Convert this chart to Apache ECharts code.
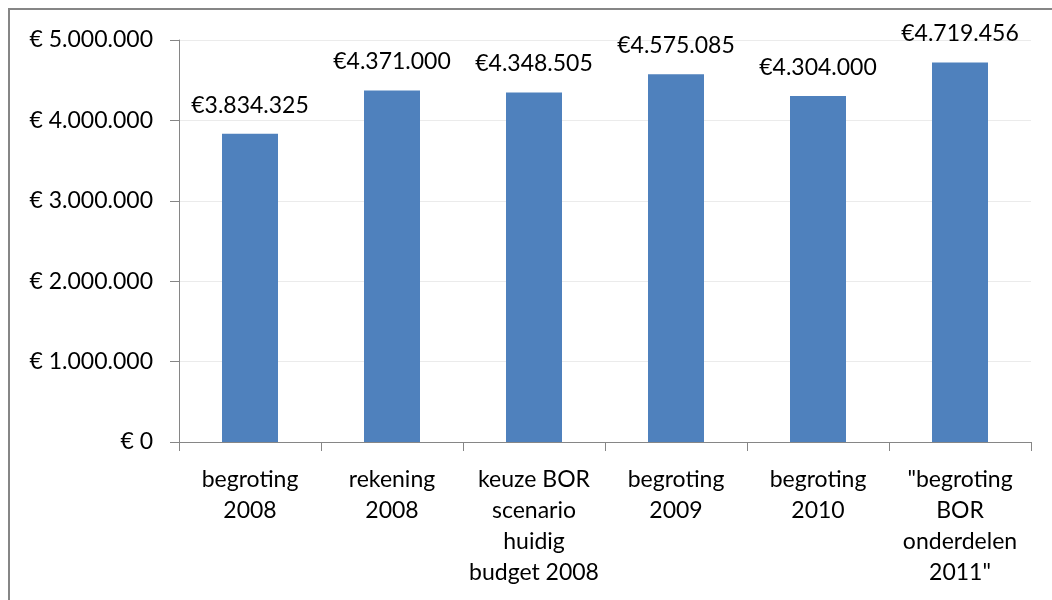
<!DOCTYPE html>
<html>
<head>
<meta charset="utf-8">
<script src="https://cdn.jsdelivr.net/npm/echarts@6/dist/echarts.min.js"></script>
<style>
  html, body { margin: 0; padding: 0; background: #fff; }
  #chart { width: 1052px; height: 600px; }
</style>
</head>
<body>
<div id="chart"></div>
<script>
// categorieën en bedragen
const categories = [
    "begroting\n2008",
    "rekening\n2008",
    "keuze BOR\nscenario\nhuidig\nbudget 2008",
    "begroting\n2009",
    "begroting\n2010",
    "\"begroting\nBOR\nonderdelen\n2011\""
]
const amounts = [3834325, 4371000, 4348505, 4575085, 4304000, 4719456]
const yTicks = [0, 1000000, 2000000, 3000000, 4000000, 5000000]

// getal met punten als duizendtal scheiding
function euro(v) {
    return String(v).replace(/\B(?=(\d{3})+(?!\d))/g, ".")
}

const font = "Lato, 'Open Sans', sans-serif"
const chart = echarts.init(document.getElementById("chart"))
chart.setOption({
    animation: false,
    backgroundColor: "#fff",
    graphic: [{
        type: "rect",
        shape: { x: 9, y: 9, width: 1200, height: 800 },
        style: { fill: "none", stroke: "#868686", lineWidth: 2 },
        silent: true
    }],
    grid: { left: 179, right: 21, top: 40, bottom: 158 },
    xAxis: {
        type: "category",
        data: categories,
        axisLine: { lineStyle: { color: "#868686", width: 1 } },
        axisTick: { show: true, length: 9, alignWithLabel: false, lineStyle: { color: "#868686" } },
        axisLabel: {
            interval: 0,
            color: "#000",
            fontFamily: font,
            fontSize: 23,
            lineHeight: 31,
            margin: 22
        }
    },
    yAxis: {
        type: "value",
        min: yTicks[0],
        max: yTicks[yTicks.length - 1],
        interval: 1000000,
        axisLine: { show: true, lineStyle: { color: "#868686", width: 1 } },
        axisTick: { show: true, length: 9, lineStyle: { color: "#868686" } },
        splitLine: { lineStyle: { color: "#ebebeb", width: 1 } },
        axisLabel: {
            color: "#000",
            fontFamily: font,
            fontSize: 23,
            margin: 26,
            formatter: v => "€ " + euro(v)
        }
    },
    series: [{
        type: "bar",
        data: amounts,
        barWidth: 56,
        itemStyle: { color: "#4F81BD" },
        label: {
            show: true,
            position: "top",
            distance: 17,
            color: "#000",
            fontFamily: font,
            fontSize: 23,
            formatter: p => "€" + euro(p.value)
        }
    }]
})
</script>
</body>
</html>
